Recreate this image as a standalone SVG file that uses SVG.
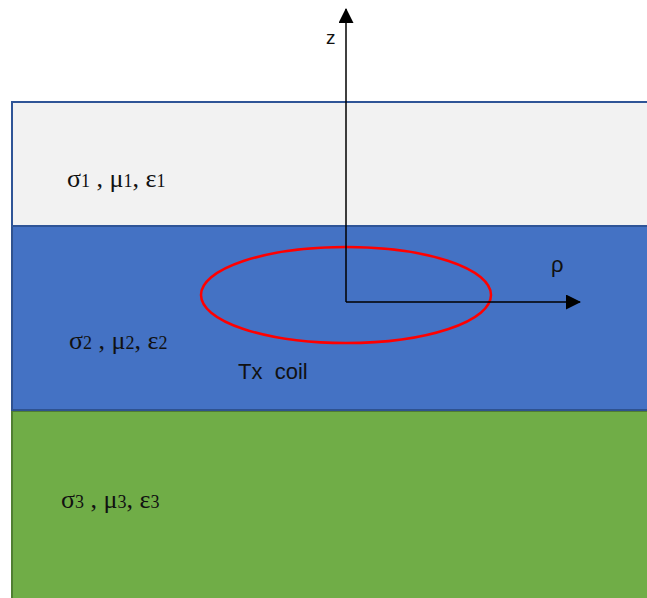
<svg xmlns="http://www.w3.org/2000/svg" width="647" height="598" viewBox="0 0 647 598">
<style>
.lbl{font-family:"Liberation Serif","Times New Roman",serif;font-size:26px;fill:#111}
.sub{font-size:18px}
.sans{font-family:"Liberation Sans",Arial,sans-serif;fill:#111}
.axis{stroke:#000;stroke-width:1.5;fill:none}
</style>
<defs>
<marker id="arr" viewBox="0 0 15 15" refX="14" refY="7.5" markerWidth="15" markerHeight="15" markerUnits="userSpaceOnUse" orient="auto">
<path d="M0,0 L15,7.5 L0,15 Z" fill="#000"/>
</marker>
</defs>
<g id="layer3">
<rect x="12" y="411" width="640" height="200" fill="#70AD47" stroke="#507E32" stroke-width="2"/>
<text class="lbl" x="61" y="508">σ<tspan class="sub">3</tspan> , μ<tspan class="sub">3</tspan>, ε<tspan class="sub">3</tspan></text>
</g>
<g id="layer2">
<rect x="12" y="226" width="640" height="184" fill="#4472C4" stroke="#2F528F" stroke-width="2"/>
<text class="lbl" x="69" y="349">σ<tspan class="sub">2</tspan> , μ<tspan class="sub">2</tspan>, ε<tspan class="sub">2</tspan></text>
</g>
<g id="layer1">
<rect x="12" y="102" width="640" height="124" fill="#F2F2F2" stroke="#2F5597" stroke-width="2"/>
<text class="lbl" x="67" y="187">σ<tspan class="sub">1</tspan> , μ<tspan class="sub">1</tspan>, ε<tspan class="sub">1</tspan></text>
</g>
<g id="coil">
<ellipse cx="346" cy="295" rx="145" ry="48" fill="none" stroke="#FF0000" stroke-width="2.5"/>
<text class="sans" x="238" y="379" font-size="22" xml:space="preserve">Tx  coil</text>
</g>
<g id="connectors">
<line class="axis" x1="346" y1="302" x2="346" y2="9" marker-end="url(#arr)"/>
<line class="axis" x1="346" y1="302" x2="580" y2="302" marker-end="url(#arr)"/>
</g>
<g id="labels">
<text class="sans" x="326" y="44" font-size="19">z</text>
<text class="sans" x="551" y="272" font-size="22">ρ</text>
</g>
</svg>
